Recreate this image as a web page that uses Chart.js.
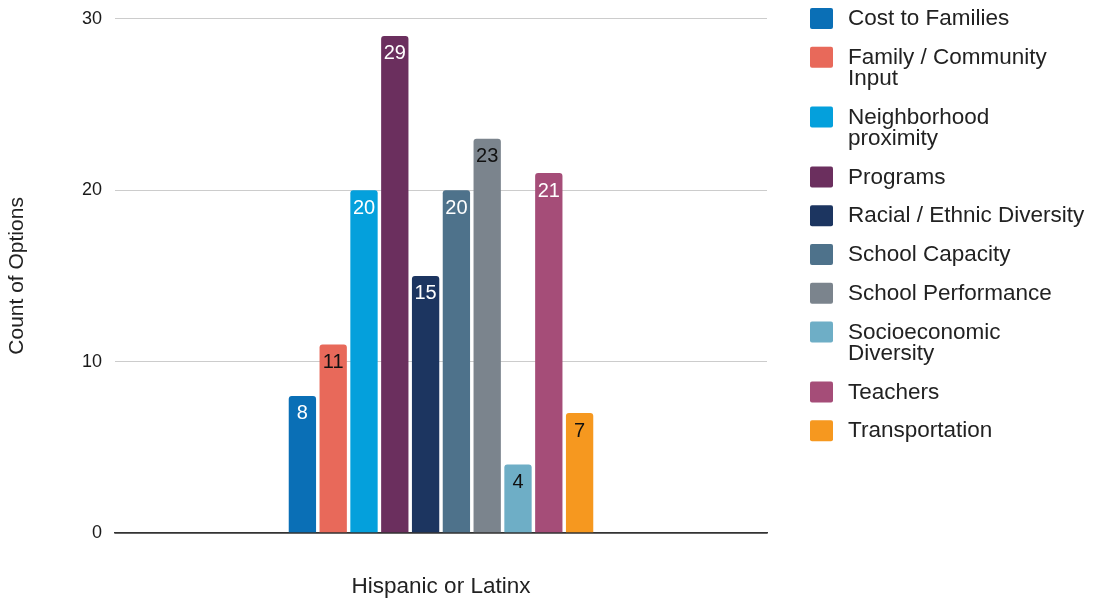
<!DOCTYPE html>
<html>
<head>
<meta charset="utf-8">
<style>
  html, body { margin: 0; padding: 0; background: #ffffff; overflow: hidden; }
  #wrap { position: relative; width: 1098px; height: 602px; overflow: hidden; }
  #chart { position: absolute; left: 0; top: -5px; }
</style>
<script src="https://cdn.jsdelivr.net/npm/chart.js@4/dist/chart.umd.min.js"></script>
</head>
<body>
<div id="wrap"><canvas id="chart" width="1098" height="607"></canvas></div>
<script>
// Category on the x axis
const categories = ['Hispanic or Latinx'];

// One series per option; "\n" marks where the legend wraps the name
const seriesNames = [
  'Cost to Families',
  'Family / Community\nInput',
  'Neighborhood\nproximity',
  'Programs',
  'Racial / Ethnic Diversity',
  'School Capacity',
  'School Performance',
  'Socioeconomic\nDiversity',
  'Teachers',
  'Transportation'
];
const seriesValues = [8, 11, 20, 29, 15, 20, 23, 4, 21, 7];
const seriesColors = [
  '#0a6fb6', '#e8695a', '#04a0dc', '#6b2f5e', '#1c3560',
  '#4e728b', '#7b848d', '#6eaec6', '#a54d78', '#f6981f'
];
const labelColors = [
  '#ffffff', '#111111', '#ffffff', '#ffffff', '#ffffff',
  '#ffffff', '#111111', '#111111', '#ffffff', '#111111'
];
const yTicks = [0, 10, 20, 30];

const FONT = '"Liberation Sans", Arial, Helvetica, sans-serif';
const CANVAS_SHIFT = 5; // canvas sits 5px above the page top

// Value labels drawn just inside the top of each bar
const valueLabels = {
  id: 'valueLabels',
  afterDatasetsDraw(chart) {
    const ctx = chart.ctx;
    ctx.save();
    ctx.font = '20px ' + FONT;
    ctx.textAlign = 'center';
    ctx.textBaseline = 'middle';
    chart.data.datasets.forEach((ds, i) => {
      const meta = chart.getDatasetMeta(i);
      meta.data.forEach((bar, j) => {
        ctx.fillStyle = labelColors[i];
        ctx.fillText(String(ds.data[j]), bar.x, bar.y + 18);
      });
    });
    ctx.restore();
  }
};

// Legend on the right, with wrapped names
const sideLegend = {
  id: 'sideLegend',
  afterDraw(chart) {
    const ctx = chart.ctx;
    ctx.save();
    ctx.font = '22.5px ' + FONT;
    ctx.textAlign = 'left';
    ctx.textBaseline = 'middle';
    let y = 18 + CANVAS_SHIFT;
    seriesNames.forEach((name, i) => {
      const lines = name.split('\n');
      ctx.fillStyle = seriesColors[i];
      ctx.beginPath();
      ctx.roundRect(810, y - 10, 23, 21, 2);
      ctx.fill();
      ctx.fillStyle = '#222222';
      lines.forEach((ln, k) => ctx.fillText(ln, 848, y + 1 + k * 21));
      y += (lines.length - 1) * 21 + 38.8;
    });
    ctx.restore();
  }
};

const datasets = seriesNames.map((name, i) => ({
  label: name.replace('\n', ' '),
  data: [seriesValues[i]],
  backgroundColor: seriesColors[i],
  borderRadius: { topLeft: 3, topRight: 3, bottomLeft: 0, bottomRight: 0 },
  borderSkipped: 'bottom',
  barPercentage: 0.887,
  categoryPercentage: 0.4724
}));

new Chart(document.getElementById('chart'), {
  type: 'bar',
  data: { labels: categories, datasets },
  options: {
    responsive: false,
    animation: false,
    layout: { padding: { top: 7, right: 331, bottom: 0, left: 0 } },
    plugins: {
      legend: { display: false },
      tooltip: { enabled: false }
    },
    scales: {
      x: {
        grid: { display: false, drawTicks: false },
        border: { display: true, color: '#333333', width: 1.5 },
        ticks: { color: '#222222', font: { family: FONT, size: 22.5 }, padding: 40 },
        afterFit(axis) { axis.height = 69; }
      },
      y: {
        min: 0,
        max: 30,
        afterBuildTicks(axis) { axis.ticks = yTicks.map(v => ({ value: v })); },
        grid: {
          drawTicks: false,
          color: (c) => c.tick && c.tick.value === 0 ? '#333333' : '#cccccc',
          lineWidth: (c) => c.tick && c.tick.value === 0 ? 1.5 : 1
        },
        border: { display: false },
        ticks: { color: '#1a1a1a', font: { family: FONT, size: 18 }, padding: 13 },
        title: {
          display: true,
          text: 'Count of Options',
          color: '#222222',
          font: { family: FONT, size: 21 },
          padding: { top: 5, bottom: 0 }
        },
        afterFit(axis) { axis.width = 115; }
      }
    }
  },
  plugins: [valueLabels, sideLegend]
});
</script>
</body>
</html>
